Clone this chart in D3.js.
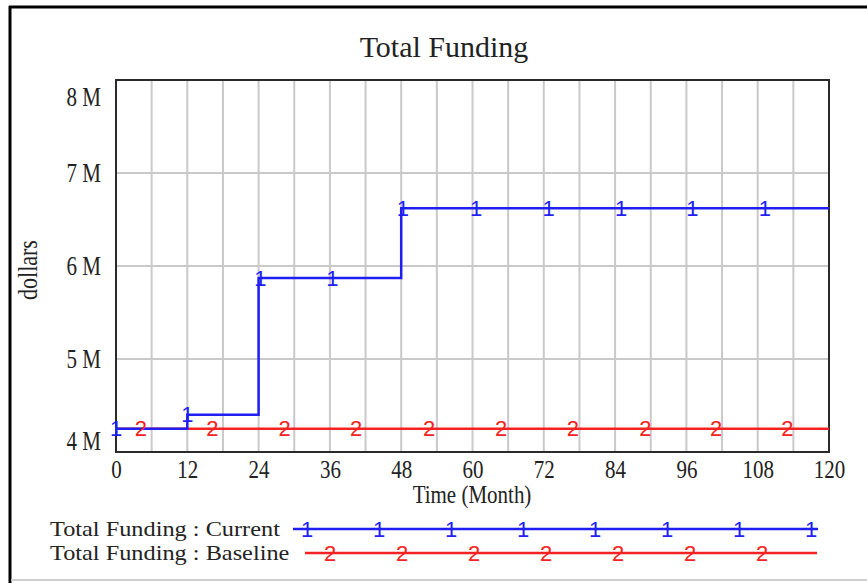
<!DOCTYPE html>
<html>
<head>
<meta charset="utf-8">
<script src="https://cdnjs.cloudflare.com/ajax/libs/d3/7.8.5/d3.min.js"></script>
<style>
body { margin: 0; background: #fff; }
svg { display: block; }
text { font-family: "Liberation Serif", "Times New Roman", serif; }
</style>
</head>
<body>
<svg id="chart" width="867" height="583"></svg>
<script>
// values
const chartTitle = "Total Funding";
const currentTimes = [0, 12, 24, 48, 120];
const currentValues = [4.25e6, 4.40e6, 5.87e6, 6.62e6, 6.62e6];
const baselineTimes = [0, 120];
const baselineValues = [4.25e6, 4.25e6];
const currentMarkTimes = [0, 12, 24.3, 36.4, 48.3, 60.6, 72.8, 85, 97, 109.2];
const baselineMarkTimes = [4.2, 16.2, 28.4, 40.4, 52.7, 64.8, 76.9, 89.1, 101, 113];
const xTicks = [0, 12, 24, 36, 48, 60, 72, 84, 96, 108, 120];
const xGrid = [0, 6, 12, 18, 24, 30, 36, 42, 48, 54, 60, 66, 72, 78, 84, 90, 96, 102, 108, 114, 120];
const yTicks = [4e6, 5e6, 6e6, 7e6, 8e6];
const yTickLabels = ["4 M", "5 M", "6 M", "7 M", "8 M"];
const seriesNames = ["Total Funding : Current", "Total Funding : Baseline"];
const seriesMarks = ["1", "2"];

const blue = "#1f1ff2", red = "#f42222", ink = "#222";
const svg = d3.select("#chart");
const pLeft = 116, pRight = 829, pTop = 80, pBottom = 452;

const x = d3.scaleLinear().domain([0, 120]).range([pLeft, pRight]);
const y = d3.scaleLinear().domain([4e6, 8e6]).range([pBottom, pTop]);

// outer frame
svg.append("line").attr("x1", 10).attr("x2", 10).attr("y1", 6).attr("y2", 583)
    .attr("stroke", "#000").attr("stroke-width", 3);
svg.append("line").attr("x1", 9).attr("x2", 867).attr("y1", 7).attr("y2", 7)
    .attr("stroke", "#000").attr("stroke-width", 3);
svg.append("line").attr("x1", 11).attr("x2", 867).attr("y1", 580).attr("y2", 580)
    .attr("stroke", "#cfcfcf").attr("stroke-width", 2);

// grid
svg.append("g").selectAll("line").data(xGrid).enter().append("line")
    .attr("x1", d => x(d)).attr("x2", d => x(d))
    .attr("y1", pTop).attr("y2", pBottom)
    .attr("stroke", "#c9c9c9").attr("stroke-width", 2);
svg.append("g").selectAll("line").data(yTicks).enter().append("line")
    .attr("x1", pLeft).attr("x2", pRight)
    .attr("y1", d => y(d)).attr("y2", d => y(d))
    .attr("stroke", "#c9c9c9").attr("stroke-width", 2);

// axes
let xAxis = svg.append("g")
    .attr("transform", "translate(0," + pBottom + ")")
    .call(d3.axisBottom(x).tickValues(xTicks).tickSize(0).tickFormat(d3.format("d")));
xAxis.select(".domain").remove();
xAxis.selectAll("text")
    .attr("y", 0).attr("dy", null)
    .style("font-size", "20px")
    .style("fill", ink)
    .attr("transform", "translate(0,26) scale(1.05,1.25)");

let yAxis = svg.append("g")
    .attr("transform", "translate(" + pLeft + ",0)")
    .call(d3.axisLeft(y).tickValues(yTicks).tickSize(0)
        .tickFormat((d, i) => yTickLabels[i]));
yAxis.select(".domain").remove();
yAxis.selectAll("text")
    .attr("x", 0).attr("dy", null)
    .style("font-size", "21px")
    .style("fill", ink)
    .attr("dominant-baseline", "central")
    .attr("transform", function(d) {
        let off = 0;
        if (d === 8e6) off = 17;
        if (d === 4e6) off = -11;
        return "translate(-15," + off + ") scale(1,1.25)";
    });

// plot frame
svg.append("rect").attr("x", pLeft).attr("y", pTop)
    .attr("width", pRight - pLeft).attr("height", pBottom - pTop)
    .attr("fill", "none").attr("stroke", "#2a2a2a").attr("stroke-width", 2);

// labels
svg.append("text").attr("x", 444).attr("y", 57)
    .attr("text-anchor", "middle").style("font-size", "30px").style("fill", ink)
    .text(chartTitle);
svg.append("text")
    .attr("transform", "translate(472,503) scale(1,1.15)")
    .attr("text-anchor", "middle").style("font-size", "21px").style("fill", ink)
    .text("Time (Month)");
svg.append("text")
    .attr("transform", "translate(37,270) rotate(-90) scale(1,1.2)")
    .attr("text-anchor", "middle").style("font-size", "22px").style("fill", ink)
    .text("dollars");

// series
function valueAt(times, values, t) {
    let i = d3.bisectRight(times, t) - 1;
    return values[Math.max(0, i)];
}

const line = d3.line()
    .x(d => x(d[0]))
    .y(d => y(d[1]))
    .curve(d3.curveStepAfter);

const series = [
    {times: baselineTimes, values: baselineValues, marks: baselineMarkTimes, color: red, label: seriesMarks[1]},
    {times: currentTimes, values: currentValues, marks: currentMarkTimes, color: blue, label: seriesMarks[0]}
];

series.forEach(function(s) {
    svg.append("path")
        .datum(d3.zip(s.times, s.values))
        .attr("d", line)
        .attr("fill", "none")
        .attr("stroke", s.color)
        .attr("stroke-width", 2.5);
});
series.forEach(function(s) {
    svg.append("g").selectAll("text").data(s.marks).enter().append("text")
        .attr("transform", d => "translate(" + x(d) + "," + y(valueAt(s.times, s.values, d)) + ")")
        .attr("text-anchor", "middle")
        .attr("dominant-baseline", "central")
        .style("font-family", "'Liberation Sans', Arial, sans-serif")
        .style("font-size", "22px")
        .style("fill", s.color)
        .text(s.label);
});

// legend
const legend = [
    {name: seriesNames[0], mark: seriesMarks[0], color: blue, y: 529, x1: 293, x2: 818, m0: 307, n: 8},
    {name: seriesNames[1], mark: seriesMarks[1], color: red, y: 553, x1: 305, x2: 817, m0: 330, n: 7}
];
legend.forEach(function(l) {
    svg.append("text")
        .attr("transform", "translate(50," + (l.y + 7) + ") scale(1.28,1.15)")
        .style("font-size", "19px")
        .style("fill", ink)
        .text(l.name);
    svg.append("line").attr("x1", l.x1).attr("x2", l.x2)
        .attr("y1", l.y).attr("y2", l.y)
        .attr("stroke", l.color).attr("stroke-width", 2.5);
    svg.append("g").selectAll("text").data(d3.range(l.n)).enter().append("text")
        .attr("x", i => l.m0 + i * 72)
        .attr("y", l.y)
        .attr("text-anchor", "middle")
        .attr("dominant-baseline", "central")
        .style("font-family", "'Liberation Sans', Arial, sans-serif")
        .style("font-size", "22px")
        .style("fill", l.color)
        .text(l.mark);
});
</script>
</body>
</html>
